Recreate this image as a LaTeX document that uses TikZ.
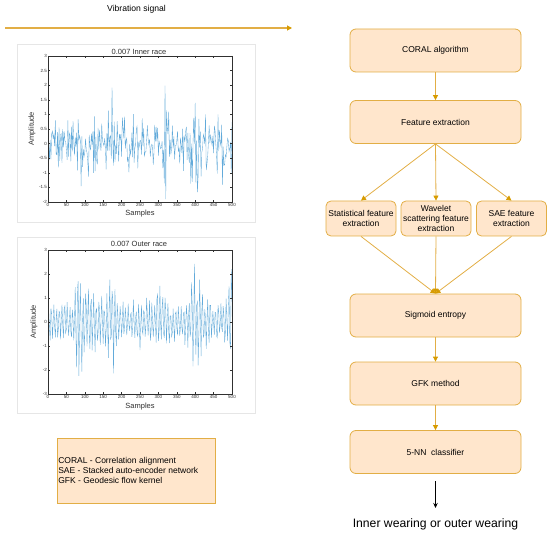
\documentclass[tikz,border=0pt]{standalone}
\usepackage{fontspec}
\setmainfont{Liberation Sans}
\usetikzlibrary{arrows.meta}
\definecolor{boxfill}{HTML}{FFE6CC}
\definecolor{boxline}{HTML}{E2AE45}
\definecolor{tipc}{HTML}{D79B00}
\definecolor{sigc}{HTML}{62AADA}
\definecolor{axc}{HTML}{303030}
\definecolor{framec}{HTML}{E6E6E6}
\begin{document}
\begin{tikzpicture}[x=1pt,y=-1pt,
  declare function={bump(\p,\c,\w)=1/(1+((\p-\c)/\w)*((\p-\c)/\w))/(1+((\p-\c)/\w)*((\p-\c)/\w));},
  flowbox/.style={draw=boxline, fill=boxfill, rounded corners=6pt, line width=0.8pt,
    minimum width=171pt, minimum height=43pt, inner sep=0pt, font=\fontsize{8.5}{10}\selectfont},
  smallbox/.style={draw=boxline, fill=boxfill, rounded corners=5pt, line width=0.8pt,
    minimum width=70pt, minimum height=35pt, inner sep=0pt, align=center, font=\fontsize{8.5}{10}\selectfont},
  flowarrow/.style={draw=boxline, line width=0.8pt, -{Triangle[length=5pt,width=5pt,color=tipc]}},
  sigline/.style={draw=sigc, line width=0.35pt},
  axbox/.style={draw=axc, line width=0.4pt},
  ticklab/.style={font=\fontsize{4.5}{5}\selectfont, text=axc, inner sep=0.5pt},
  axlab/.style={font=\fontsize{7.5}{9}\selectfont, text=axc, inner sep=0pt},
  figframe/.style={draw=framec, line width=0.6pt, fill=white}
]
\useasboundingbox (0,0) rectangle (550,535);

% top signal arrow
\node[font=\fontsize{8.6}{10}\selectfont, inner sep=0pt] (vibtxt) at (136.5,9) {Vibration signal};
\coordinate (vs) at (5,28);
\coordinate (ve) at (292,28);
\draw[draw=boxline, line width=1.1pt, -{Triangle[length=5pt,width=5pt,color=tipc]}] (vs) -- (ve);

% ---------- plot 1 ----------
\draw[figframe] (17,44) rectangle (255,222);
\begin{scope}[shift={(48,143.6)}, xscale=0.368, yscale=-29.2]
  \clip (0,-2) rectangle (500,3);
  \pgfmathsetseed{11}
  \draw[sigline] plot[domain=0:500, samples=251]
    (\x,{1.2*(0.75+0.8*bump(\x,100,18)+1.0*bump(\x,175,14)+1.5*bump(\x,317,9)+0.3*bump(\x,215,20)
      +1.0*bump(\x,405,30)+0.5*bump(\x,470,18))*(0.6*rand+0.45*sin(75*mod(\x,24)))});
\end{scope}
\draw[axbox] (48,56) rectangle (232,202);
\foreach \i/\l in {0/3,1/2.5,2/2,3/1.5,4/1,5/0.5,6/0,7/-0.5,8/-1,9/-1.5,10/-2}{
  \pgfmathsetmacro{\yy}{56+\i*14.6}
  \draw[axc, line width=0.3pt] (48,\yy) -- (50,\yy) (232,\yy) -- (230,\yy);
  \node[ticklab, anchor=east] (ya\i) at (47.5,\yy) {\l};
}
\foreach \i in {0,...,10}{
  \pgfmathsetmacro{\xx}{48+\i*18.4}
  \pgfmathtruncatemacro{\lab}{\i*50}
  \draw[axc, line width=0.3pt] (\xx,202) -- (\xx,200) (\xx,56) -- (\xx,58);
  \node[ticklab, anchor=north] (xa\i) at (\xx,203) {\lab};
}
\node[axlab] (t1) at (139,52) {0.007 Inner race};
\node[axlab] (s1) at (140,214) {Samples};
\node[axlab, rotate=90] (a1) at (32,129) {Amplitude};

% ---------- plot 2 ----------
\draw[figframe] (17,237) rectangle (255,413);
\begin{scope}[shift={(48,322)}, xscale=0.368, yscale=-24]
  \clip (0,-3) rectangle (500,3);
  \pgfmathsetseed{5}
  \draw[sigline] plot[domain=0:500, samples=251]
    (\x,{(0.75+1.7*bump(\x,88,22)+1.5*bump(\x,172,16)+0.4*bump(\x,130,20)+0.6*bump(\x,300,28)
      +0.35*bump(\x,255,18)+1.6*bump(\x,402,22)+1.9*bump(\x,500,10))*(0.85*sin(50*mod(\x,36))+0.3*rand)});
\end{scope}
\draw[axbox] (48,250) rectangle (232,394);
\foreach \i/\l in {0/3,1/2,2/1,3/0,4/-1,5/-2,6/-3}{
  \pgfmathsetmacro{\yy}{250+\i*24}
  \draw[axc, line width=0.3pt] (48,\yy) -- (50,\yy) (232,\yy) -- (230,\yy);
  \node[ticklab, anchor=east] (yb\i) at (47.5,\yy) {\l};
}
\foreach \i in {0,...,10}{
  \pgfmathsetmacro{\xx}{48+\i*18.4}
  \pgfmathtruncatemacro{\lab}{\i*50}
  \draw[axc, line width=0.3pt] (\xx,394) -- (\xx,392) (\xx,250) -- (\xx,252);
  \node[ticklab, anchor=north] (xb\i) at (\xx,395) {\lab};
}
\node[axlab] (t2) at (139,244) {0.007 Outer race};
\node[axlab] (s2) at (140,407) {Samples};
\node[axlab, rotate=90] (a2) at (34,322) {Amplitude};

% ---------- legend ----------
\node[draw=boxline, fill=boxfill, line width=0.8pt, minimum width=158pt, minimum height=65pt, inner sep=0pt] (legend) at (136,470.5) {};
\node[anchor=west, align=left, inner sep=0pt, font=\fontsize{8.5}{10}\selectfont] (legtxt) at ([xshift=1.5pt]legend.west)
  {CORAL - Correlation alignment\\SAE - Stacked auto-encoder network\\GFK - Geodesic flow kernel};

% ---------- flow ----------
\node[flowbox] (coral) at (435.5,50.5) {CORAL algorithm};
\node[flowbox] (feat) at (435.5,122) {Feature extraction};
\node[smallbox] (stat) at (361,218.5) {Statistical feature\\extraction};
\node[smallbox] (wave) at (436,218.5) {Wavelet\\scattering feature\\extraction};
\node[smallbox] (sae) at (511.5,218.5) {SAE feature\\extraction};
\node[flowbox] (sigm) at (435.5,315.5) {Sigmoid entropy};
\node[flowbox] (gfk) at (435.5,383.5) {GFK method};
\node[flowbox] (knn) at (435.5,452) {5-NN\ \ classifier};
\node[font=\fontsize{12.2}{14}\selectfont, inner sep=0pt] (res) at (435.5,524) {Inner wearing or outer wearing};

\draw[flowarrow] (coral.south) -- (feat.north);
\draw[flowarrow] (feat.south) -- (stat.north);
\draw[flowarrow] (feat.south) -- (wave.north);
\draw[flowarrow] (feat.south) -- (sae.north);
\draw[flowarrow] (stat.south) -- (sigm.north);
\draw[flowarrow] (wave.south) -- (sigm.north);
\draw[flowarrow] (sae.south) -- (sigm.north);
\draw[flowarrow] (sigm.south) -- (gfk.north);
\draw[flowarrow] (gfk.south) -- (knn.north);
\coordinate (ka) at (435.5,481);
\coordinate (kb) at (435.5,508);
\draw[black, line width=0.7pt, -{Stealth[length=5pt,width=4.5pt]}] (ka) -- (kb);
\end{tikzpicture}
\end{document}
